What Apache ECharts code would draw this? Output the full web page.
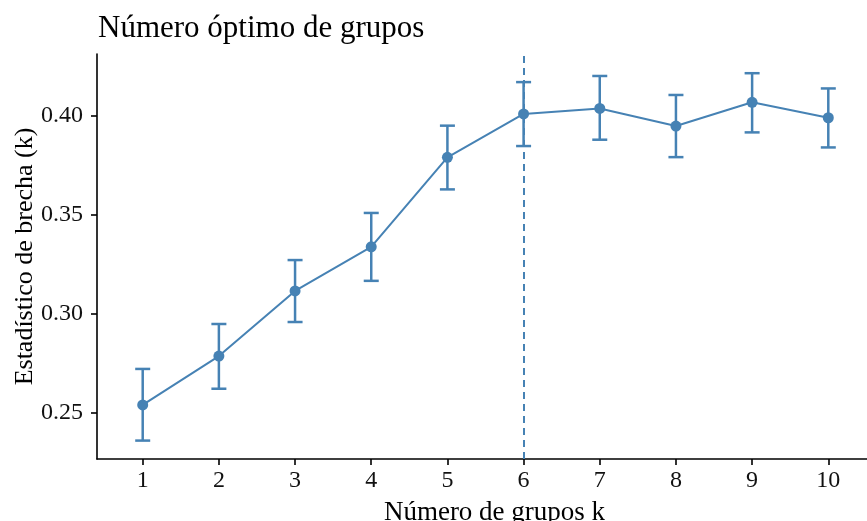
<!DOCTYPE html>
<html>
<head>
<meta charset="utf-8">
<script src="https://cdn.jsdelivr.net/npm/echarts@6/dist/echarts.min.js"></script>
<style>html,body{margin:0;padding:0;background:#fff;}#c{width:867px;height:521px;}</style>
</head>
<body>
<div id="c"></div>
<script>
var ks = [1, 2, 3, 4, 5, 6, 7, 8, 9, 10];
var gap = [0.2537, 0.2784, 0.3113, 0.3336, 0.3788, 0.4007, 0.4035, 0.3946, 0.4066, 0.3988];
var upper = [0.2719, 0.2946, 0.3269, 0.3507, 0.3948, 0.4168, 0.4199, 0.4103, 0.4213, 0.4136];
var lower = [0.2357, 0.2619, 0.2956, 0.3164, 0.3626, 0.3845, 0.3877, 0.3789, 0.3914, 0.3838];
var yTicks = [0.25, 0.30, 0.35, 0.40];
var optimalK = 6;

var color = '#4682B4';
var font = '"Liberation Serif", "DejaVu Serif", serif';
var chart = echarts.init(document.getElementById('c'), null, {renderer: 'canvas'});

var lineData = ks.map(function (k, i) { return [k, gap[i]]; });
var errData = ks.map(function (k, i) { return [k, lower[i], upper[i]]; });

chart.setOption({
  animation: false,
  backgroundColor: '#fff',
  title: {
    text: 'Número óptimo de grupos',
    left: 98, top: 13, padding: 0,
    textStyle: {fontFamily: font, fontSize: 31, fontWeight: 'normal', color: '#000'}
  },
  grid: {left: 97, right: -7, top: 54, bottom: 62, containLabel: false, outerBoundsMode: 'none'},
  xAxis: {
    type: 'value', min: 0.4, max: 10.6,
    name: 'Número de grupos k', nameLocation: 'middle', nameGap: 40, nameMoveOverlap: false,
    nameTextStyle: {fontFamily: font, fontSize: 27, color: '#000', padding: [0, 0, 0, 18]},
    splitLine: {show: false},
    axisLine: {lineStyle: {color: '#000', width: 1.6}},
    axisTick: {length: 6, lineStyle: {color: '#000', width: 1.6}, customValues: ks},
    axisLabel: {customValues: ks, fontFamily: font, fontSize: 24, color: '#111', margin: 10,
      formatter: function (v) { return String(Math.round(v)); }}
  },
  yAxis: {
    type: 'value', min: 0.2264, max: 0.4310,
    name: 'Estadístico de brecha (k)', nameLocation: 'middle', nameGap: 59, nameMoveOverlap: false,
    nameTextStyle: {fontFamily: font, fontSize: 26, color: '#000'},
    splitLine: {show: false},
    axisLine: {show: true, lineStyle: {color: '#000', width: 1.6}},
    axisTick: {show: true, length: 6, lineStyle: {color: '#000', width: 1.6}, customValues: yTicks},
    axisLabel: {customValues: yTicks, fontFamily: font, fontSize: 24, color: '#111', margin: 14,
      formatter: function (v) { return v.toFixed(2); }}
  },
  series: [
    {
      type: 'custom',
      data: errData,
      z: 2,
      renderItem: function (params, api) {
        var lo = api.coord([api.value(0), api.value(1)]);
        var hi = api.coord([api.value(0), api.value(2)]);
        var w = 7.5;
        var st = {stroke: color, lineWidth: 2.5};
        return {
          type: 'group',
          children: [
            {type: 'line', shape: {x1: lo[0], y1: lo[1], x2: hi[0], y2: hi[1]}, style: st},
            {type: 'line', shape: {x1: lo[0] - w, y1: lo[1], x2: lo[0] + w, y2: lo[1]}, style: st},
            {type: 'line', shape: {x1: hi[0] - w, y1: hi[1], x2: hi[0] + w, y2: hi[1]}, style: st}
          ]
        };
      }
    },
    {
      type: 'line',
      data: lineData,
      z: 3,
      symbol: 'circle', symbolSize: 11,
      itemStyle: {color: color},
      lineStyle: {color: color, width: 2},
      markLine: {
        silent: true, symbol: 'none', label: {show: false},
        lineStyle: {color: color, type: [7, 5], width: 2},
        data: [{xAxis: optimalK}]
      }
    }
  ]
});
</script>
</body>
</html>
